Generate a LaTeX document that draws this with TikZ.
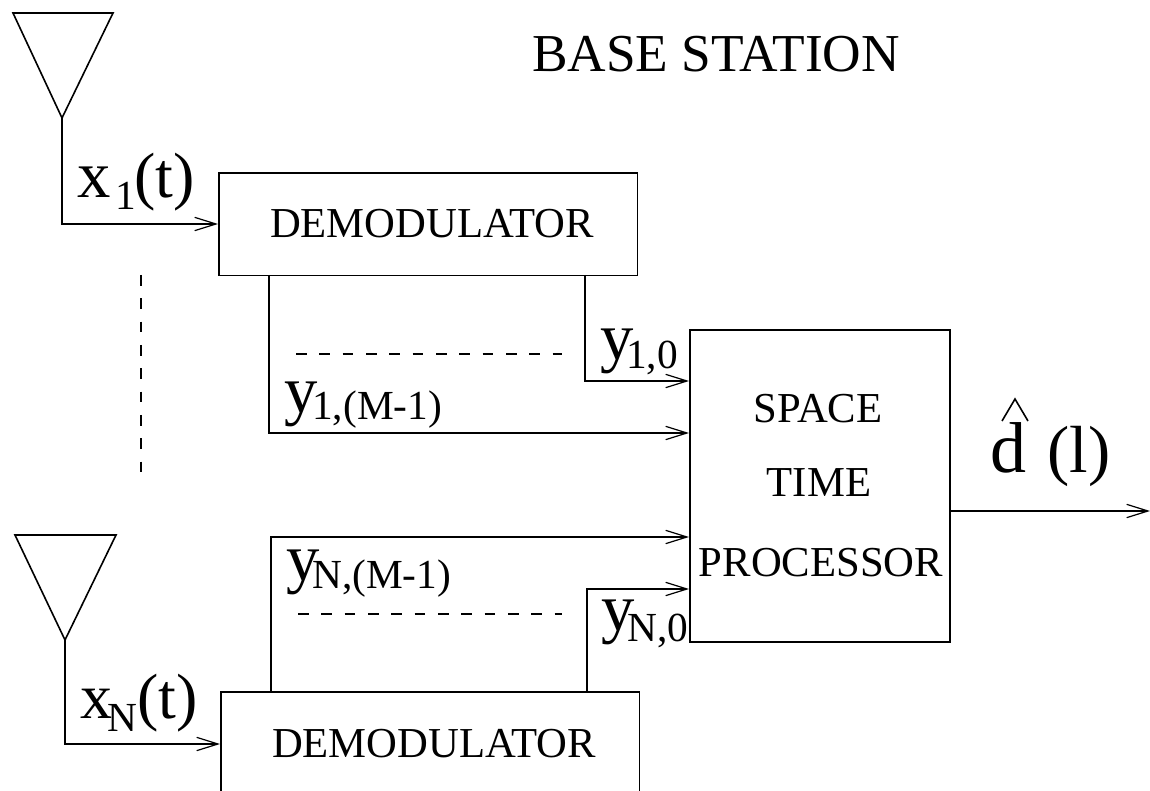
\documentclass[tikz,border=0pt]{standalone}
\usepackage{fontspec}
\setmainfont{Liberation Serif}
\usetikzlibrary{arrows.meta}
\tikzset{
 wire/.style={draw=black,line width=1.2pt},
 arr/.style={wire,-{Straight Barb[length=16pt,width=10pt,line width=0.9pt]}},
 blockbox/.style={draw=black,line width=1.2pt,anchor=north west,inner sep=0pt},
 lab/.style={anchor=base west,inner sep=0pt,font=\fontsize{48}{48}\selectfont},
 letter/.style={anchor=base west,inner sep=0pt,font=\fontsize{50}{50}\selectfont},
 sub/.style={anchor=base west,inner sep=0pt,font=\fontsize{31}{31}\selectfont},
 boxlab/.style={anchor=base,inner sep=0pt,font=\fontsize{32}{32}\selectfont},
 dashline/.style={wire,line width=0.9pt,dash pattern=on 8pt off 9.5pt}
}
\begin{document}
\begin{tikzpicture}[x=0.75pt,y=-0.75pt]
\useasboundingbox (0,0) rectangle (1150,791);
\fill[white] (0,0) rectangle (1150,791);
% antennas
\draw[wire] (13,13) -- (113,13) -- (62,118) -- cycle;
\draw[wire] (15,535) -- (116,535) -- (65,640) -- cycle;
\coordinate (a1) at (62,118);
\coordinate (a2) at (65,640);
% boxes
\node[blockbox,minimum width=314pt,minimum height=77pt] (d1) at (218,172) {};
\node[blockbox,minimum width=314pt,minimum height=83pt] (d2) at (220,691) {};
\node[blockbox,minimum width=195pt,minimum height=234pt] (p) at (689,329) {};
% texts
\node[anchor=base,inner sep=0pt,font=\fontsize{40}{40}\selectfont] (title) at (716,72) {BASE STATION};
\node[boxlab] (t1) at (432,238) {DEMODULATOR};
\node[boxlab] (t2) at (434,757) {DEMODULATOR};
\node[boxlab] (s1) at (818,423) {SPACE};
\node[boxlab] (s2) at (819,497) {TIME};
\node[boxlab] (s3) at (821,576) {PROCESSOR};
% connectors
\coordinate (e1) at (218,224);
\coordinate (e2) at (220,744);
\draw[arr] (a1) -- (62,224) -- (e1);
\draw[arr] (a2) -- (65,744) -- (e2);
\coordinate (p1) at (689,381);
\coordinate (p2) at (689,433);
\coordinate (p3) at (689,537);
\coordinate (p4) at (689,589);
\draw[arr] (585,275) -- (585,381) -- (p1);
\draw[arr] (269,275) -- (269,433) -- (p2);
\draw[arr] (271,691) -- (271,537) -- (p3);
\draw[arr] (587,691) -- (587,589) -- (p4);
\coordinate (o) at (1150,511);
\draw[arr] (949,511) -- (o);
% dashed
\coordinate (v1) at (141,275); \coordinate (v2) at (141,480);
\draw[dashline] (v1) -- (v2);
\coordinate (h1) at (296,354); \coordinate (h2) at (562,354);
\draw[dashline] (h1) -- (h2);
\coordinate (h3) at (298,614); \coordinate (h4) at (562,614);
\draw[dashline] (h3) -- (h4);
% labels
\node[letter] (x1) at (77,198) {x};
\node[sub] (x1s) at (115,210) {1};
\node[lab] (x1t) at (134,198) {(t)};
\node[lab] (xn) at (80,718) {x};
\node[sub] (xns) at (107,731) {N};
\node[lab] (xnt) at (137,718) {(t)};
\node[letter] (y10) at (600,360) {y};
\node[sub] (y10s) at (626,369) {1,0};
\node[letter] (y1m) at (284,413) {y};
\node[sub] (y1ms) at (312,420) {1,(M-1)};
\node[letter] (ynm) at (286,580) {y};
\node[sub] (ynms) at (312,588) {N,(M-1)};
\node[letter] (yn0) at (601,630) {y};
\node[sub] (yn0s) at (627,641) {N,0};
\node[anchor=base west,inner sep=0pt,font=\fontsize{54}{54}\selectfont] (dh) at (990,473) {d};
\draw[wire] (1002,421) -- (1015,399) -- (1028,421);
\node[anchor=base west,inner sep=0pt,font=\fontsize{50}{50}\selectfont] (dl) at (1047,473) {(l)};
\end{tikzpicture}
\end{document}
